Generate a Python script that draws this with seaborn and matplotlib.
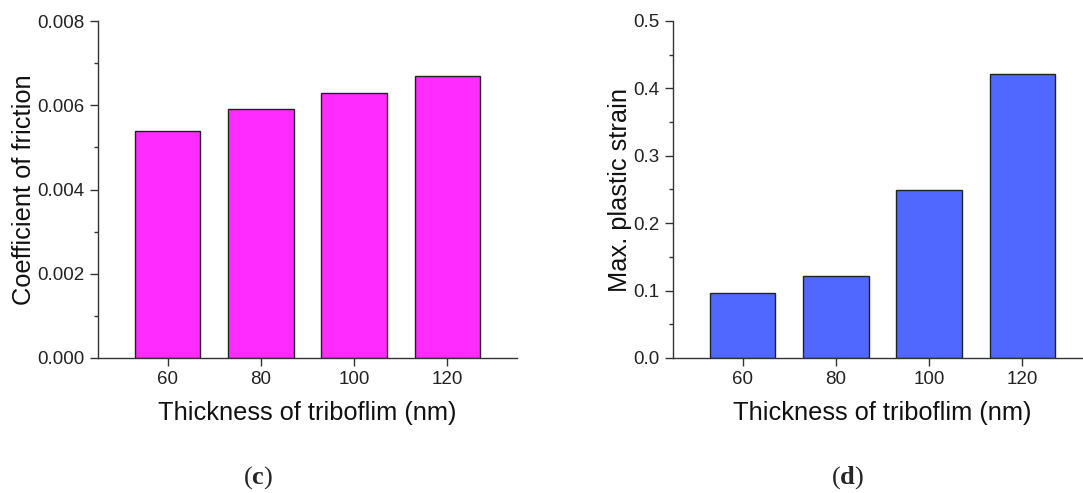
import matplotlib
matplotlib.use("Agg")
import matplotlib.pyplot as plt
import seaborn as sns
import pandas as pd
from matplotlib.ticker import MultipleLocator

thickness = [60, 80, 100, 120]
friction = [0.0054, 0.0059, 0.0063, 0.0067]
strain = [0.096, 0.121, 0.249, 0.422]

sns.set_style("ticks")
plt.rcParams['font.family'] = ['Liberation Sans', 'DejaVu Sans']
plt.rcParams['mathtext.fontset'] = 'custom'
plt.rcParams['mathtext.bf'] = 'Liberation Serif:bold'
plt.rcParams['mathtext.rm'] = 'Liberation Serif'

fig = plt.figure(figsize=(10.83, 4.93), dpi=100)
ax1 = fig.add_axes([98/1083, 1-358/493, (517-98)/1083, (358-21)/493])
ax2 = fig.add_axes([673/1083, 1-358/493, (1092-673)/1083, (358-21)/493])

df = pd.DataFrame({"t": thickness, "f": friction, "s": strain})

def draw(ax, col, color, ylabel, ymax, major, minor, fmt):
    sns.barplot(data=df, x="t", y=col, ax=ax, color=color, native_scale=True,
                width=0.7, edgecolor="#222222", linewidth=1.0, saturation=1)
    ax.set_xlim(45, 135)
    ax.set_ylim(0, ymax)
    ax.set_xticks(thickness)
    ax.set_xticklabels([str(v) for v in thickness])
    ax.yaxis.set_major_locator(MultipleLocator(major))
    ax.yaxis.set_minor_locator(MultipleLocator(minor))
    ax.yaxis.set_major_formatter(plt.FormatStrFormatter(fmt))
    for s in ["top", "right"]:
        ax.spines[s].set_visible(False)
    for s in ["left", "bottom"]:
        ax.spines[s].set_color("#333333")
        ax.spines[s].set_linewidth(1.0)
    ax.tick_params(axis="both", which="major", direction="out", length=6,
                   width=1, labelsize=13.5, color="#333333", labelcolor="#222222")
    ax.tick_params(axis="y", which="minor", direction="out", length=3, width=1,
                   color="#333333")
    ax.set_xlabel("Thickness of triboflim (nm)", fontsize=18.3, color="#111111", labelpad=9)
    ax.set_ylabel(ylabel, fontsize=18.3, color="#111111", labelpad=1)

draw(ax1, "f", "#FF2BFF", "Coefficient of friction", 0.008, 0.002, 0.001, "%.3f")
draw(ax2, "s", "#5068FF", "Max. plastic strain", 0.5, 0.1, 0.05, "%.1f")

for x, lab in [(258/1083, "c"), (848/1083, "d")]:
    fig.text(x, 1-478/493, "($\\mathbf{" + lab + "}$)", fontsize=19,
             family=["Liberation Serif", "DejaVu Serif"], ha="center", va="center")

fig.savefig("out.png", dpi=100)
